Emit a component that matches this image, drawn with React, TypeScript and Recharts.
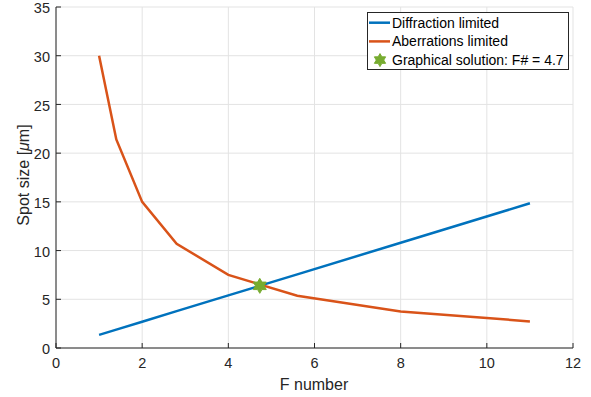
import { CartesianGrid, ComposedChart, Legend, Line, Scatter, XAxis, YAxis, Label } from "recharts";

// F-stops used for both curves
const fNumbers = [1, 1.4, 2, 2.8, 4, 5.6, 8, 11];
const diffractionSpot = [1.35, 1.89, 2.7, 3.78, 5.4, 7.56, 10.8, 14.85];
const aberrationSpot = [30, 21.4, 15, 10.7, 7.5, 5.36, 3.75, 2.73];
const solutionPoint = [{ f: 4.73, spot: 6.38 }];

const seriesNames = ["Diffraction limited", "Aberrations limited", "Graphical solution: F# = 4.7"];
const xTicks = [0, 2, 4, 6, 8, 10, 12];
const yTicks = [0, 5, 10, 15, 20, 25, 30, 35];

const data = fNumbers.map((f, i) => ({ f, diffraction: diffractionSpot[i], aberrations: aberrationSpot[i] }));

const BLUE = "#0072BD";
const ORANGE = "#D95319";
const GREEN = "#77AC30";
const AXIS = "#262626";
const FONT = '"Liberation Sans", Arial, Helvetica, sans-serif';

function hexagramPath(cx: number, cy: number, r: number) {
  const inner = r / Math.sqrt(3);
  const pts: string[] = [];
  for (let k = 0; k < 12; k++) {
    const a = ((-90 + k * 30) * Math.PI) / 180;
    const rr = k % 2 === 0 ? r : inner;
    pts.push(`${(cx + rr * Math.cos(a)).toFixed(2)},${(cy + rr * Math.sin(a)).toFixed(2)}`);
  }
  return `M${pts.join("L")}Z`;
}

function Hexagram({ cx, cy, r = 7.5 }: { cx?: number; cy?: number; r?: number }) {
  if (cx == null || cy == null) return null;
  return <path d={hexagramPath(cx, cy, r)} fill={GREEN} stroke={GREEN} strokeWidth={1} />;
}

function BottomTick({ x, y, payload }: any) {
  return (
    <g>
      <line x1={x} x2={x} y1={y - 10} y2={y - 15} stroke={AXIS} />
      <text x={x} y={y} dy="0.72em" textAnchor="middle" fill={AXIS} fontSize={14.5} fontFamily={FONT}>
        {payload.value}
      </text>
    </g>
  );
}

function LeftTick({ x, y, payload }: any) {
  return (
    <g>
      <line x1={x + 6} x2={x + 11} y1={y} y2={y} stroke={AXIS} />
      <text x={x} y={y} dy="0.42em" textAnchor="end" fill={AXIS} fontSize={14.5} fontFamily={FONT}>
        {payload.value}
      </text>
    </g>
  );
}

function TopTick({ x, y }: any) {
  return <line x1={x} x2={x} y1={y} y2={y + 5} stroke={AXIS} />;
}

function RightTick({ x, y }: any) {
  return <line x1={x} x2={x - 5} y1={y} y2={y} stroke={AXIS} />;
}

function LegendBox() {
  const colors = [BLUE, ORANGE, GREEN];
  return (
    <svg width={203} height={59} style={{ display: "block" }}>
      <rect x={0.5} y={0.5} width={201} height={57} fill="#fff" stroke={AXIS} />
      {seriesNames.map((name, i) => {
        const cy = 10.7 + i * 18.7;
        return (
          <g key={name}>
            {i < 2 ? (
              <line x1={2} x2={23} y1={cy} y2={cy} stroke={colors[i]} strokeWidth={2.5} />
            ) : (
              <Hexagram cx={13} cy={cy} r={6.5} />
            )}
            <text x={25} y={cy} dy="0.36em" fontSize={14} fontFamily={FONT} fill="#000">
              {name}
            </text>
          </g>
        );
      })}
    </svg>
  );
}

export default function App() {
  return (
    <div style={{ width: 591, height: 397, background: "#fff" }}>
      <style>{`body{margin:0}`}</style>
      <ComposedChart width={591} height={397} data={data} margin={{ top: 7, right: 18, bottom: 0, left: 0 }}>
        <CartesianGrid stroke="#e3e3e3" strokeWidth={1} />
        <XAxis
          dataKey="f"
          type="number"
          domain={[0, 12]}
          ticks={xTicks}
          height={49}
          tickSize={0}
          tickMargin={10}
          tickLine={false}
          stroke={AXIS}
          tick={<BottomTick />}
          interval={0}
        >
          <Label
            content={() => (
              <text x={314} y={390} textAnchor="middle" fontSize={16} fontFamily={FONT} fill={AXIS}>
                F number
              </text>
            )}
          />
        </XAxis>
        <XAxis
          xAxisId="top"
          orientation="top"
          dataKey="f"
          type="number"
          domain={[0, 12]}
          ticks={xTicks}
          height={0}
          tickSize={0}
          tickLine={false}
          stroke="#bdbdbd"
          tick={<TopTick />}
          interval={0}
        />
        <YAxis
          type="number"
          domain={[0, 35]}
          ticks={yTicks}
          width={56}
          tickSize={0}
          tickMargin={6}
          tickLine={false}
          stroke={AXIS}
          tick={<LeftTick />}
          interval={0}
        >
          <Label
            content={() => (
              <text
                x={0}
                y={0}
                transform="translate(29,175) rotate(-90)"
                textAnchor="middle"
                fontSize={16}
                fontFamily={FONT}
                fill={AXIS}
              >
                Spot size [<tspan fontStyle="italic">μ</tspan>m]
              </text>
            )}
          />
        </YAxis>
        <YAxis
          yAxisId="right"
          orientation="right"
          type="number"
          domain={[0, 35]}
          ticks={yTicks}
          width={0}
          tickSize={0}
          tickLine={false}
          stroke={AXIS}
          tick={<RightTick />}
          interval={0}
        />
        <Line
          dataKey="diffraction"
          stroke={BLUE}
          strokeWidth={2.5}
          dot={false}
          isAnimationActive={false}
          name={seriesNames[0]}
        />
        <Line
          dataKey="aberrations"
          stroke={ORANGE}
          strokeWidth={2.5}
          dot={false}
          isAnimationActive={false}
          name={seriesNames[1]}
        />
        <Scatter
          data={solutionPoint}
          dataKey="spot"
          shape={(p: any) => <Hexagram cx={p.cx} cy={p.cy} r={7.5} />}
          isAnimationActive={false}
          name={seriesNames[2]}
        />
        <Legend
          layout="vertical"
          align="center"
          verticalAlign="middle"
          content={() => <LegendBox />}
          wrapperStyle={{ top: 12, left: 367, width: 203, height: 59 }}
        />
      </ComposedChart>
    </div>
  );
}
